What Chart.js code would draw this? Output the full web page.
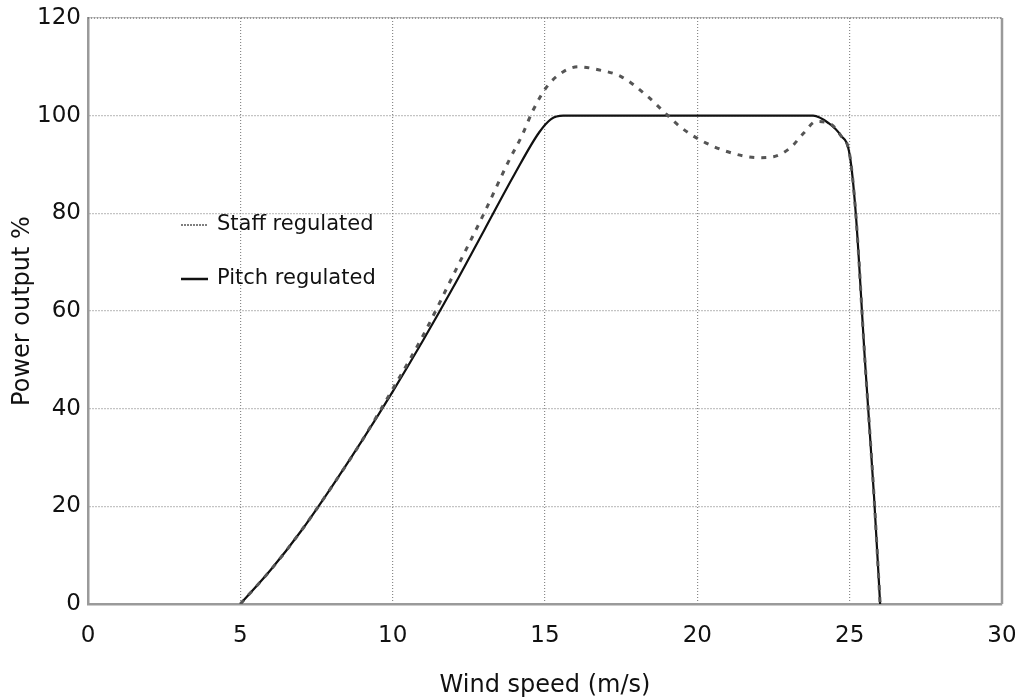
<!DOCTYPE html>
<html>
<head>
<meta charset="utf-8">
<script src="https://cdn.jsdelivr.net/npm/chart.js@4.4.1/dist/chart.umd.min.js"></script>
<style>
  html, body { margin: 0; padding: 0; background: #ffffff; }
  #wrap { width: 1015px; height: 700px; position: relative; }
</style>
</head>
<body>
<div id="wrap"><canvas id="c" width="1015" height="700"></canvas></div>
<script>
// ---- Data ----
const xTickLabels = [0, 5, 10, 15, 20, 25, 30];
const yTickLabels = [0, 20, 40, 60, 80, 100, 120];

const stallLabel = "Staff regulated";
const stallX = [5, 6, 7, 8, 9, 10, 11, 12, 13, 13.8, 14.25, 14.6, 15.07, 15.6, 16.1, 16.75, 17.5, 18.36, 19, 19.44, 20.1, 21, 22, 22.5, 23.05, 23.5, 23.9, 24.3, 24.7, 25, 25.2, 25.5, 25.8, 26];
const stallY = [0, 7, 15, 24, 33.5, 44, 55, 67.5, 80, 90.6, 96, 101, 106, 109, 110, 109.4, 108, 104, 100.2, 97.7, 95, 92.6, 91.4, 91.6, 93.4, 96.5, 98.8, 98.5, 96, 92, 80, 50, 22, 0];

const pitchLabel = "Pitch regulated";
const pitchX = [5, 6, 7, 8, 9, 10, 11, 12, 13, 14, 14.8, 15.2, 15.6, 16, 23.8, 24.3, 24.7, 25, 25.2, 25.5, 25.8, 26];
const pitchY = [0, 7, 15, 24, 33.5, 43.5, 54, 65, 76.5, 88, 96.5, 99.3, 100, 100, 100, 98.5, 96, 92, 80, 50, 22, 0];

const xTitle = "Wind speed (m/s)";
const yTitle = "Power output %";

// ---- build ----
const toPts = (xs, ys) => xs.map((x, i) => ({ x: x, y: ys[i] }));
const FONT = "'DejaVu Sans', 'Liberation Sans', sans-serif";

const framePlugin = {
  id: 'frame',
  afterDraw(chart) {
    const { ctx, chartArea: a } = chart;
    ctx.save();
    ctx.strokeStyle = '#9a9a9a';
    ctx.lineWidth = 2.5;
    ctx.beginPath();
    ctx.moveTo(a.right, a.top);
    ctx.lineTo(a.right, a.bottom);
    ctx.stroke();
    ctx.setLineDash([1, 2]);
    ctx.lineWidth = 1.5;
    ctx.strokeStyle = '#777';
    ctx.beginPath();
    ctx.moveTo(a.left, a.top);
    ctx.lineTo(a.right, a.top);
    ctx.stroke();
    ctx.restore();

    // legend inside plot area
    ctx.save();
    const ds = chart.data.datasets;
    const lx = a.left + 93;
    const ys = [a.top + 207, a.top + 261];
    ctx.font = "21px " + FONT;
    ctx.textBaseline = 'middle';
    ctx.textAlign = 'left';
    ds.forEach((d, i) => {
      ctx.strokeStyle = d.borderColor;
      ctx.lineWidth = i === 0 ? 1.5 : 2.5;
      ctx.setLineDash(i === 0 ? [2, 1] : []);
      ctx.beginPath();
      ctx.moveTo(lx, ys[i]);
      ctx.lineTo(lx + 27, ys[i]);
      ctx.stroke();
      ctx.setLineDash([]);
      ctx.fillStyle = '#111';
      ctx.fillText(d.label, lx + 36, ys[i]);
    });
    ctx.restore();
  }
};

new Chart(document.getElementById('c'), {
  type: 'line',
  data: {
    datasets: [
      {
        label: stallLabel,
        data: toPts(stallX, stallY),
        borderColor: '#555555',
        borderWidth: 3,
        borderDash: [5, 7],
        pointRadius: 0,
        fill: false,
        cubicInterpolationMode: 'monotone'
      },
      {
        label: pitchLabel,
        data: toPts(pitchX, pitchY),
        borderColor: '#111111',
        borderWidth: 2.2,
        pointRadius: 0,
        fill: false,
        cubicInterpolationMode: 'monotone'
      }
    ]
  },
  options: {
    responsive: false,
    animation: false,
    devicePixelRatio: 1,
    layout: { padding: { left: 0, right: 13, top: 18, bottom: 0 } },
    plugins: {
      legend: { display: false },
      tooltip: { enabled: false }
    },
    scales: {
      x: {
        type: 'linear',
        min: xTickLabels[0],
        max: xTickLabels[xTickLabels.length - 1],
        afterBuildTicks: (s) => { s.ticks = xTickLabels.map(v => ({ value: v })); },
        ticks: { color: '#111', font: { family: FONT, size: 23 }, padding: 18 },
        grid: { color: '#8a8a8a', lineWidth: 1.2, drawTicks: false },
        border: { display: true, color: '#9a9a9a', width: 2.5, dash: [1, 2] },
        title: { display: true, text: xTitle, color: '#111', font: { family: FONT, size: 24 }, padding: { top: 12, bottom: 0 } },
        afterFit: (s) => { s.height = 96; s.paddingRight = 0; s.paddingLeft = 0; }
      },
      y: {
        type: 'linear',
        min: yTickLabels[0],
        max: yTickLabels[yTickLabels.length - 1],
        afterBuildTicks: (s) => { s.ticks = yTickLabels.map(v => ({ value: v })); },
        ticks: { color: '#111', font: { family: FONT, size: 23 }, padding: 7 },
        grid: { color: '#8a8a8a', lineWidth: 1.2, drawTicks: false },
        border: { display: true, color: '#9a9a9a', width: 2.5, dash: [1, 2] },
        title: { display: true, text: yTitle, color: '#111', font: { family: FONT, size: 24 }, padding: { top: 8, bottom: 4 } },
        afterFit: (s) => { s.width = 88; s.paddingTop = 0; s.paddingBottom = 0; }
      }
    }
  },
  plugins: [framePlugin]
});
</script>
</body>
</html>
